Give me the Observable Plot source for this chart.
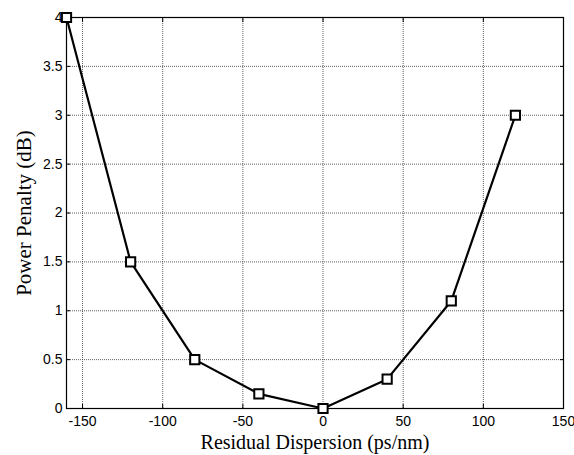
<!DOCTYPE html>
<html>
<head>
<meta charset="utf-8">
<script src="https://cdn.jsdelivr.net/npm/d3@7"></script>
<script src="https://cdn.jsdelivr.net/npm/@observablehq/plot@0.6"></script>
<style>
  html, body { margin: 0; padding: 0; background: #fff; }
  #chart svg { display: block; }
</style>
</head>
<body>
<div id="chart"></div>
<script>
const dispersion = [-160, -120, -80, -40, 0, 40, 80, 120];
const penalty = [4, 1.5, 0.5, 0.15, 0, 0.3, 1.1, 3];
const xTicks = [-150, -100, -50, 0, 50, 100, 150];
const yTicks = [0, 0.5, 1, 1.5, 2, 2.5, 3, 3.5, 4];
const xLabel = "Residual Dispersion (ps/nm)";
const yLabel = "Power Penalty (dB)";

const data = dispersion.map((d, i) => ({x: d, y: penalty[i]}));
const tickFont = "Liberation Sans, Arial, sans-serif";
const labelFont = "Liberation Serif, Times New Roman, serif";

const chart = Plot.plot({
  width: 574,
  height: 455,
  marginLeft: 66,
  marginRight: 11,
  marginTop: 17,
  marginBottom: 47,
  style: {background: "#fff", overflow: "visible"},
  x: {domain: [-160, 150]},
  y: {domain: [0, 4]},
  marks: [
    Plot.gridX(xTicks, {stroke: "#444", strokeOpacity: 0.85, strokeDasharray: "1,1", strokeWidth: 1}),
    Plot.gridY(yTicks, {stroke: "#444", strokeOpacity: 0.85, strokeDasharray: "1,1", strokeWidth: 1}),
    Plot.axisX({anchor: "bottom", ticks: xTicks, tickSize: -4, text: null, label: null}),
    Plot.axisX({anchor: "top", ticks: xTicks, tickSize: -4, text: null, label: null}),
    Plot.axisY({anchor: "left", ticks: yTicks, tickSize: -4, text: null, label: null}),
    Plot.axisY({anchor: "right", ticks: yTicks, tickSize: -4, text: null, label: null}),
    Plot.axisX({anchor: "bottom", ticks: xTicks, tickSize: 0, tickPadding: 8, label: null,
      fontSize: 14, fontFamily: tickFont, fill: "#000", tickFormat: d => String(d)}),
    Plot.axisY({anchor: "left", ticks: yTicks, tickSize: 0, tickPadding: 4, label: null,
      fontSize: 14, fontFamily: tickFont, fill: "#000", tickFormat: d => String(d)}),
    Plot.frame({stroke: "#000", strokeWidth: 1.2}),
    Plot.line(data, {x: "x", y: "y", stroke: "#000", strokeWidth: 2.2}),
    Plot.dot(data, {x: "x", y: "y", symbol: "square", r: 5.2, stroke: "#000", strokeWidth: 2, fill: "#fff"}),
    Plot.text([xLabel], {text: d => d, frameAnchor: "bottom", lineAnchor: "middle", dy: 34, fontSize: 20, fontFamily: labelFont, fill: "#000"}),
    Plot.text([yLabel], {text: d => d, frameAnchor: "left", textAnchor: "middle", lineAnchor: "middle", dx: -42, rotate: -90, fontSize: 21, fontFamily: labelFont, fill: "#000"})
  ]
});
document.getElementById("chart").appendChild(chart);
</script>
</body>
</html>
